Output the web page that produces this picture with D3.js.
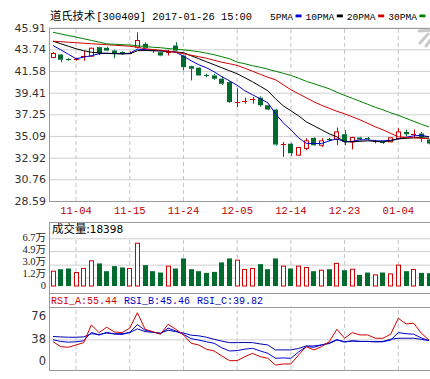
<!DOCTYPE html>
<html><head><meta charset="utf-8">
<script src="https://cdn.jsdelivr.net/npm/d3@7"></script>
<style>
body{margin:0;background:#fff;}
svg{display:block;}
</style></head><body>
<svg id="c" width="430" height="379"></svg>
<script>
// ---------------- data ----------------
const dates = ["11-01","11-02","11-03","11-04","11-07","11-08","11-09","11-10","11-11","11-14",
  "11-15","11-16","11-17","11-18","11-21","11-22","11-23","11-24","11-25","11-28",
  "11-29","11-30","12-01","12-02","12-05","12-06","12-07","12-08","12-09","12-12",
  "12-13","12-14","12-15","12-16","12-19","12-20","12-21","12-22","12-23","12-26",
  "12-27","12-28","12-29","12-30","01-03","01-04","01-05","01-06","01-09","01-10"];
const openP  = [42.92,43.22,42.76,42.74,42.95,43.05,43.95,43.89,43.62,43.44,
  43.37,43.95,44.29,43.64,43.45,43.40,44.12,43.12,42.06,41.90,
  41.15,41.13,40.80,40.47,38.45,38.55,38.70,38.91,38.15,37.72,
  34.20,34.31,33.17,33.84,34.89,34.16,34.75,34.73,35.26,34.49,
  34.93,34.88,34.50,34.48,34.50,34.83,35.49,35.24,35.33,34.73];
const closeP = [43.32,42.70,42.72,42.78,43.05,43.85,43.35,43.62,43.29,43.40,
  43.41,44.62,43.89,43.60,43.12,43.44,43.62,41.96,41.80,41.13,
  41.11,40.80,40.30,38.47,38.50,38.60,38.75,38.15,37.72,34.23,
  34.26,33.36,33.93,34.60,34.16,34.60,34.71,35.49,34.49,34.93,
  34.73,34.84,34.54,34.44,34.90,35.49,35.26,35.28,34.99,34.33];
const highP  = [43.45,43.28,42.85,42.90,43.60,43.90,44.00,44.00,43.70,43.52,
  43.52,45.44,44.45,43.72,43.50,43.69,44.45,43.20,42.10,41.95,
  41.30,41.30,41.03,40.55,39.84,38.91,38.98,39.05,38.20,37.80,
  34.49,34.40,34.00,34.86,34.95,34.86,34.90,35.93,35.66,35.00,
  35.00,34.98,34.70,34.55,34.95,35.86,35.73,35.73,35.49,34.80];
const lowP   = [42.85,42.46,42.60,42.62,42.60,43.00,43.15,43.55,42.85,43.22,
  43.25,43.85,43.80,43.39,43.05,43.12,43.55,41.63,40.63,41.10,
  40.95,40.70,40.20,38.40,37.98,38.31,38.31,38.00,37.65,34.10,
  33.00,33.10,33.10,33.66,34.10,33.99,34.55,34.16,34.16,33.74,
  34.65,34.70,34.35,34.30,34.45,34.75,35.06,34.99,34.49,34.25];
const ma5  = [44.12,43.70,43.25,42.80,42.95,43.10,43.30,43.35,43.33,43.30,
  43.35,43.75,43.72,43.65,43.60,43.55,43.45,43.05,42.60,42.20,
  41.90,41.50,41.00,40.60,40.15,39.60,39.20,38.80,38.40,37.30,
  36.40,35.70,34.90,34.35,34.33,34.33,34.60,34.80,34.50,34.55,
  34.70,34.70,34.60,34.60,34.65,34.80,34.95,35.10,35.15,35.00];
const ma10 = [44.55,44.30,44.05,43.80,43.60,43.45,43.38,43.33,43.30,43.28,
  43.30,43.60,43.62,43.60,43.57,43.53,43.48,43.40,43.10,42.80,
  42.50,42.20,41.90,41.60,41.30,40.90,40.50,40.05,39.60,38.80,
  38.10,37.60,37.10,36.50,36.10,35.70,35.30,35.00,34.50,34.50,
  34.55,34.60,34.55,34.50,34.60,34.80,34.85,34.90,34.95,35.00];
const ma20 = [44.55,44.50,44.45,44.40,44.35,44.30,44.25,44.20,44.15,44.10,
  44.05,43.95,43.80,43.72,43.65,43.55,43.45,43.30,43.15,43.00,
  42.85,42.65,42.45,42.30,42.13,41.85,41.55,41.25,40.95,40.70,
  40.20,39.70,39.30,38.90,38.50,38.15,37.85,37.55,37.30,37.00,
  36.70,36.35,36.00,35.70,35.35,35.00,34.95,34.90,34.85,34.83];
const ma30 = [45.44,45.28,45.12,44.96,44.80,44.63,44.46,44.29,44.25,44.21,
  44.17,44.10,44.02,43.95,43.90,43.82,43.75,43.69,43.60,43.50,
  43.35,43.20,43.00,42.80,42.46,42.30,42.10,41.95,41.75,41.55,
  41.35,41.13,40.85,40.55,40.30,40.05,39.80,39.45,39.14,38.85,
  38.55,38.25,37.95,37.70,37.40,37.15,36.85,36.55,36.25,35.99];
const volume = [2.08,2.36,2.46,1.89,2.46,3.54,3.17,2.08,2.79,2.60,
  2.46,6.00,2.93,2.08,1.89,2.79,2.46,3.87,2.36,2.08,
  1.84,1.98,3.31,3.87,3.63,2.32,2.46,3.07,2.36,3.87,
  2.79,2.46,2.79,2.60,2.08,2.22,2.36,3.17,2.22,2.36,
  1.56,1.89,1.56,1.89,1.70,2.93,2.08,2.32,1.84,1.80];
const rsiA = [34.7,27.6,26.7,30.0,33.3,58.6,47.6,55.3,48.6,47.6,
  53.9,76.0,52.4,49.0,45.3,59.6,52.4,44.3,32.4,30.0,
  23.9,21.4,14.3,7.6,7.6,13.3,18.1,13.3,11.0,1.4,
  2.9,2.9,15.7,27.6,22.9,27.6,34.7,52.4,39.6,47.6,
  44.3,44.3,39.6,39.6,45.3,68.1,60.0,61.0,46.7,37.1];
const rsiB = [37.5,35.0,34.0,34.5,36.0,48.0,44.0,48.0,45.5,45.0,
  48.0,59.0,51.0,48.5,46.0,54.0,50.0,45.0,39.0,37.0,
  34.5,32.4,26.0,21.4,22.0,24.0,25.2,21.5,18.1,11.0,
  11.5,11.0,20.0,27.6,26.7,30.0,33.0,37.5,34.0,36.0,
  35.0,35.0,34.5,34.5,37.0,47.6,46.0,45.3,40.0,36.2];
const rsiC = [42.0,41.5,41.0,41.0,41.5,46.0,45.0,47.0,46.0,46.0,
  47.5,53.0,49.0,48.0,47.0,51.0,49.0,47.0,44.0,43.0,
  41.0,38.1,35.5,33.3,33.3,33.5,33.3,31.5,30.0,22.9,
  23.0,22.9,25.0,28.6,28.6,30.0,32.0,37.1,34.7,35.5,
  35.0,35.0,34.7,35.0,38.1,39.6,39.6,39.6,38.0,36.2];
const xTickLabels = ["11-04","11-15","11-24","12-05","12-14","12-23","01-04"];
const priceTicks = [45.91,43.74,41.58,39.41,37.25,35.09,32.92,30.76,28.59];
const volTicks = [0,1.2,3.0,4.9,6.7];
const rsiTicks = [0,38,76];
const titleName = "道氏技术";
const titleRest = "[300409] 2017-01-26 15:00";
const maLegend = ["5PMA","10PMA","20PMA","30PMA"];
const volLabel = "成交量";
const volLast = "18398";
const rsiLabels = ["RSI_A:55.44","RSI_B:45.46","RSI_C:39.82"];

// ---------------- styles ----------------
const RED = "#d00000", GREEN = "#006b2d", BLUE = "#0000cc";
const maColors = [BLUE, "#000000", "#d00000", "#008000"];
const W = 430, L = 49;
const P = {top: 27.6, bottom: 201};
const V = {top: 222, gridTop: 238.3, bottom: 292.7};
const R = {top: 292.7, plotTop: 306.7, bottom: 370};

const svg = d3.select("#c");

const x = d3.scaleBand().domain(dates)
  .range([49.16, 49.16 + 50 * 7.674]).paddingInner(0.35).paddingOuter(0.175);
const bw = x.bandwidth();
const cx = d => x(d) + bw / 2;
const yP = d3.scaleLinear().domain([28.59, 45.91]).range([P.bottom, P.top]);
const yV = d3.scaleLinear().domain([0, 6.7]).range([286, 238.3]);
const yR = d3.scaleLinear().domain([0, 76]).range([366, 312.7]);

const defs = svg.append("defs");
defs.append("clipPath").attr("id", "cp").append("rect")
  .attr("x", L).attr("y", P.top).attr("width", W - L).attr("height", P.bottom - P.top);
defs.append("clipPath").attr("id", "cr").append("rect")
  .attr("x", L).attr("y", R.plotTop).attr("width", W - L).attr("height", R.bottom - R.plotTop);

// ---------------- grids ----------------
const grid = svg.append("g");
grid.append("g").attr("transform", `translate(${L},0)`)
  .call(d3.axisLeft(yP).tickValues(priceTicks).tickSize(-(W - L)).tickFormat(""))
  .call(g => g.select(".domain").remove())
  .call(g => g.selectAll("line").attr("stroke", "#cfcfcf"));
grid.append("g").attr("transform", `translate(${L},0)`)
  .call(d3.axisLeft(yV).tickValues(volTicks.filter(v => v > 0)).tickSize(-(W - L)).tickFormat(""))
  .call(g => g.select(".domain").remove())
  .call(g => g.selectAll("line").attr("stroke", "#cfcfcf"));
grid.append("g").attr("transform", `translate(${L},0)`)
  .call(d3.axisLeft(yR).tickValues([rsiTicks[1]]).tickSize(-(W - L)).tickFormat(""))
  .call(g => g.select(".domain").remove())
  .call(g => g.selectAll("line").attr("stroke", "#cfcfcf"));

const vspans = [[P.top, P.bottom], [V.gridTop, 286], [R.plotTop, R.bottom]];
vspans.forEach(([a, b]) => {
  grid.append("g").attr("transform", `translate(0,${b})`)
    .call(d3.axisBottom(x).tickValues(xTickLabels).tickSize(-(b - a)).tickFormat(""))
    .call(g => g.select(".domain").remove())
    .call(g => g.selectAll("line").attr("stroke", "#c4c4c4").attr("stroke-dasharray", "4,3"));
});

// ---------------- frames ----------------
const frame = svg.append("g").attr("stroke", "#9a9a9a").attr("stroke-width", 1).attr("fill", "none");
[P.top, P.bottom, V.top, V.bottom, R.plotTop, R.bottom].forEach(yy => {
  frame.append("line").attr("x1", L).attr("x2", W).attr("y1", Math.round(yy) + 0.5).attr("y2", Math.round(yy) + 0.5);
});
frame.append("line").attr("x1", L + 0.5).attr("x2", L + 0.5).attr("y1", P.top).attr("y2", P.bottom);
frame.append("line").attr("x1", L + 0.5).attr("x2", L + 0.5).attr("y1", V.top).attr("y2", R.bottom);

// ---------------- candles ----------------
const cg = svg.append("g").attr("clip-path", "url(#cp)");
dates.forEach((d, i) => {
  const up = closeP[i] >= openP[i];
  const col = up ? RED : GREEN;
  const c = Math.round(cx(d)) + 0.5;
  const yt = yP(Math.max(openP[i], closeP[i]));
  const yb = yP(Math.min(openP[i], closeP[i]));
  const h = yb - yt;
  const left = Math.round(x(d));
  if (h < 1.2) {
    cg.append("line").attr("x1", c).attr("x2", c).attr("y1", yP(highP[i])).attr("y2", yP(lowP[i])).attr("stroke", col);
    cg.append("line").attr("x1", left).attr("x2", left + 5).attr("y1", Math.round(yt) + 0.5).attr("y2", Math.round(yt) + 0.5).attr("stroke", col);
  } else {
    cg.append("line").attr("x1", c).attr("x2", c).attr("y1", yP(highP[i])).attr("y2", yt).attr("stroke", col);
    cg.append("line").attr("x1", c).attr("x2", c).attr("y1", yb).attr("y2", yP(lowP[i])).attr("stroke", col);
    if (up) {
      cg.append("rect").attr("x", left + 0.5).attr("y", yt).attr("width", 4).attr("height", h)
        .attr("fill", "#fff").attr("stroke", col);
    } else {
      cg.append("rect").attr("x", left).attr("y", yt).attr("width", 5).attr("height", h).attr("fill", col);
    }
  }
});

[ma5, ma10, ma20, ma30].forEach((arr, k) => {
  cg.append("path").datum(arr)
    .attr("fill", "none").attr("stroke", maColors[k]).attr("stroke-width", 1)
    .attr("d", d3.line().x((v, i) => cx(dates[i])).y(v => yP(v)));
});

// ---------------- volume ----------------
const vg = svg.append("g");
dates.forEach((d, i) => {
  const up = closeP[i] >= openP[i];
  const left = Math.round(x(d));
  const top = yV(volume[i]);
  if (up) {
    vg.append("rect").attr("x", left + 0.5).attr("y", top).attr("width", 4).attr("height", yV(0) - top)
      .attr("fill", "#fff").attr("stroke", RED);
  } else {
    vg.append("rect").attr("x", left).attr("y", top).attr("width", 5).attr("height", yV(0) - top).attr("fill", GREEN);
  }
});

// ---------------- RSI ----------------
const rg = svg.append("g").attr("clip-path", "url(#cr)");
[[rsiC, "#0000b0"], [rsiB, "#0000d0"], [rsiA, RED]].forEach(([arr, col]) => {
  rg.append("path").datum(arr).attr("fill", "none").attr("stroke", col).attr("stroke-width", 1)
    .attr("d", d3.line().x((v, i) => cx(dates[i])).y(v => yR(v)));
});

// ---------------- axes labels ----------------
const axFont = "'DejaVu Sans', Verdana, sans-serif";
const pa = svg.append("g").attr("transform", `translate(${L - 2},0)`)
  .call(d3.axisLeft(yP).tickValues(priceTicks).tickSize(0).tickPadding(1).tickFormat(d3.format(".2f")));
pa.select(".domain").remove();
pa.selectAll("text").attr("font-family", axFont).attr("font-size", 11).attr("fill", "#333");

const xa = svg.append("g").attr("transform", `translate(0,${P.bottom + 4})`)
  .call(d3.axisBottom(x).tickValues(xTickLabels).tickSize(0).tickPadding(2));
xa.select(".domain").remove();
xa.selectAll("text").attr("font-family", "'Liberation Mono', monospace").attr("font-size", 10.5).attr("fill", "#c00000");

// volume labels with overlap avoidance (stacked upward from the bottom)
const va = svg.append("g").attr("transform", `translate(${L - 2},0)`)
  .call(d3.axisLeft(yV).tickValues(volTicks).tickSize(0).tickPadding(1)
    .tickFormat(v => v === 0 ? "0" : d3.format(".1f")(v) + "万"));
va.select(".domain").remove();
va.selectAll("text").attr("font-family", "'Liberation Serif', 'Noto Sans CJK SC', serif").attr("font-size", 10.5).attr("fill", "#222");
{
  const ticks = va.selectAll(".tick").nodes().map(n => ({n, y: yV(d3.select(n).datum())}));
  ticks.sort((a, b) => b.y - a.y);
  let prev = Infinity;
  ticks.forEach(t => {
    const yy = Math.min(t.y, prev - 12);
    d3.select(t.n).attr("transform", `translate(0,${yy})`);
    prev = yy;
  });
}

const ra = svg.append("g").attr("transform", `translate(${L - 2},0)`)
  .call(d3.axisLeft(yR).tickValues(rsiTicks).tickSize(0).tickPadding(1));
ra.select(".domain").remove();
ra.selectAll("text").attr("font-family", axFont).attr("font-size", 11.5).attr("fill", "#333");
ra.selectAll(".tick").attr("transform", v => `translate(0,${Math.max(R.plotTop + 9.5, Math.min(R.bottom - 8.5, yR(v)))})`);

// ---------------- header ----------------
const title = svg.append("text").attr("x", 50).attr("y", 20).attr("fill", "#000");
title.append("tspan").attr("font-family", "'Noto Sans CJK SC', sans-serif").attr("font-size", 11.3).text(titleName);
title.append("tspan").attr("font-family", "'Liberation Mono', monospace").attr("font-size", 10.4).attr("dx", 1).text(titleRest);

let lx = 270;
maLegend.forEach((t, k) => {
  const tx = svg.append("text").attr("x", lx).attr("y", 19.5)
    .attr("font-family", "'Liberation Mono', monospace").attr("font-size", 9.6).attr("fill", "#000").text(t);
  const w = tx.node().getComputedTextLength();
  svg.append("rect").attr("x", lx + w + 2.5).attr("y", 14.5).attr("width", 6).attr("height", 2.8).attr("fill", maColors[k]);
  lx += w + 2.5 + 6 + 4;
});

const logo = svg.append("g").attr("stroke", "#c9c9c9").attr("stroke-width", 3).attr("fill", "none").attr("stroke-linecap", "round");
logo.append("path").attr("d", "M419,31 L432,30");
logo.append("path").attr("d", "M428,34 L420,43");
logo.append("path").attr("d", "M432,38 L426,46");

const vl = svg.append("text").attr("x", 52).attr("y", 233).attr("fill", "#000");
vl.append("tspan").attr("font-family", "'Noto Sans CJK SC', sans-serif").attr("font-size", 11.5).text(volLabel + ":");
vl.append("tspan").attr("font-family", "'DejaVu Sans', sans-serif").attr("font-size", 10.5).text(volLast);

let rx = 51;
const rcols = [RED, "#0000c0", "#0000c0"];
rsiLabels.forEach((t, k) => {
  const tx = svg.append("text").attr("x", rx).attr("y", 304)
    .attr("font-family", "'Liberation Mono', monospace").attr("font-size", 10).attr("fill", rcols[k]).text(t);
  rx += tx.node().getComputedTextLength() + 7;
});
</script>
</body></html>
